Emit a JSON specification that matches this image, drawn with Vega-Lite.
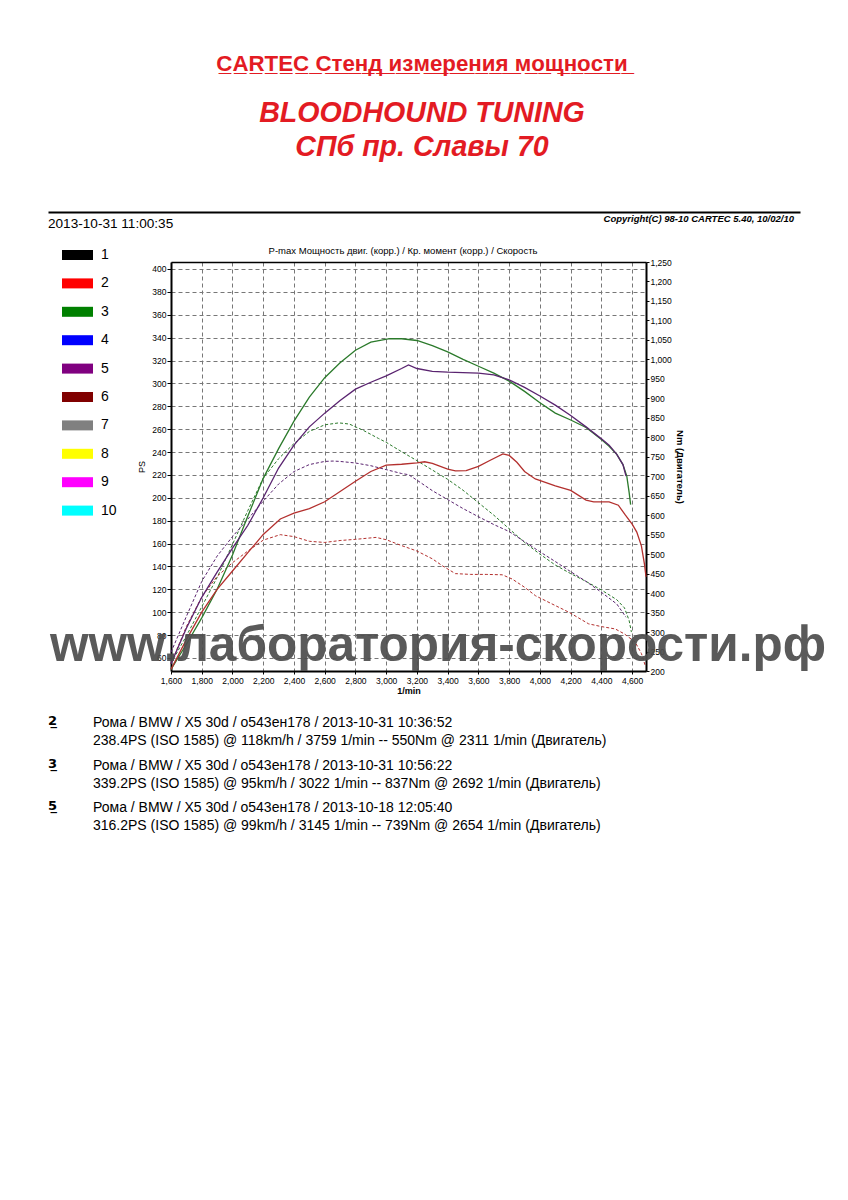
{
"$schema": "https://vega.github.io/schema/vega-lite/v6.json",
"background": "white",
"padding": {"left": 48, "top": 53, "right": 10, "bottom": 10},
"title": {
 "text": "C\u0332A\u0332R\u0332T\u0332E\u0332C\u0332 \u0332С\u0332т\u0332е\u0332н\u0332д\u0332 \u0332и\u0332з\u0332м\u0332е\u0332р\u0332е\u0332н\u0332и\u0332я\u0332 \u0332м\u0332о\u0332щ\u0332н\u0332о\u0332с\u0332т\u0332и\u0332",
 "subtitle": ["BLOODHOUND TUNING", "СПб пр. Славы 70"],
 "anchor": "middle", "frame": "bounds", "dx": -15,
 "font": "Liberation Sans", "fontSize": 22.3, "fontWeight": "bold", "color": "#e31b23",
 "subtitleFont": "Liberation Sans", "subtitleFontSize": 28.6, "subtitleFontWeight": "bold", "subtitleFontStyle": "italic", "subtitleColor": "#e31b23", "subtitleLineHeight": 34, "subtitlePadding": 24,
 "offset": 50
},
"datasets": {
 "power": [
  {"run":"3","rpm":1600,"ps":50},{"run":"3","rpm":1700,"ps":72},{"run":"3","rpm":1800,"ps":95},{"run":"3","rpm":1900,"ps":120},{"run":"3","rpm":2000,"ps":150},{"run":"3","rpm":2100,"ps":184},{"run":"3","rpm":2200,"ps":217},{"run":"3","rpm":2300,"ps":243},{"run":"3","rpm":2400,"ps":267},{"run":"3","rpm":2500,"ps":288},{"run":"3","rpm":2600,"ps":305},{"run":"3","rpm":2700,"ps":318},{"run":"3","rpm":2800,"ps":329},{"run":"3","rpm":2900,"ps":336},{"run":"3","rpm":3022,"ps":339.2},{"run":"3","rpm":3100,"ps":339},{"run":"3","rpm":3200,"ps":337.5},{"run":"3","rpm":3300,"ps":333},{"run":"3","rpm":3400,"ps":327.5},{"run":"3","rpm":3500,"ps":321},{"run":"3","rpm":3600,"ps":315},{"run":"3","rpm":3700,"ps":309},{"run":"3","rpm":3800,"ps":302},{"run":"3","rpm":3900,"ps":293},{"run":"3","rpm":4000,"ps":283},{"run":"3","rpm":4100,"ps":274},{"run":"3","rpm":4200,"ps":268},{"run":"3","rpm":4300,"ps":261.5},{"run":"3","rpm":4400,"ps":251},{"run":"3","rpm":4450,"ps":245},{"run":"3","rpm":4500,"ps":238},{"run":"3","rpm":4540,"ps":229},{"run":"3","rpm":4565,"ps":219},{"run":"3","rpm":4580,"ps":205},{"run":"3","rpm":4590,"ps":194},
  {"run":"5","rpm":1600,"ps":55},{"run":"5","rpm":1700,"ps":86},{"run":"5","rpm":1800,"ps":113},{"run":"5","rpm":1900,"ps":135},{"run":"5","rpm":2000,"ps":156},{"run":"5","rpm":2100,"ps":176},{"run":"5","rpm":2200,"ps":200},{"run":"5","rpm":2300,"ps":226},{"run":"5","rpm":2400,"ps":246},{"run":"5","rpm":2500,"ps":262},{"run":"5","rpm":2600,"ps":274},{"run":"5","rpm":2700,"ps":285},{"run":"5","rpm":2800,"ps":295},{"run":"5","rpm":2900,"ps":301},{"run":"5","rpm":3000,"ps":306.5},{"run":"5","rpm":3100,"ps":313},{"run":"5","rpm":3145,"ps":316.2},{"run":"5","rpm":3200,"ps":313},{"run":"5","rpm":3300,"ps":310.5},{"run":"5","rpm":3400,"ps":309.8},{"run":"5","rpm":3500,"ps":309.4},{"run":"5","rpm":3600,"ps":309},{"run":"5","rpm":3700,"ps":307.5},{"run":"5","rpm":3800,"ps":303},{"run":"5","rpm":3900,"ps":296.5},{"run":"5","rpm":4000,"ps":289},{"run":"5","rpm":4100,"ps":281},{"run":"5","rpm":4200,"ps":272},{"run":"5","rpm":4300,"ps":262},{"run":"5","rpm":4400,"ps":251.5},{"run":"5","rpm":4450,"ps":246},{"run":"5","rpm":4500,"ps":238},{"run":"5","rpm":4540,"ps":229},{"run":"5","rpm":4560,"ps":219},
  {"run":"2","rpm":1600,"ps":50},{"run":"2","rpm":1700,"ps":76},{"run":"2","rpm":1800,"ps":100},{"run":"2","rpm":1900,"ps":120},{"run":"2","rpm":2000,"ps":136},{"run":"2","rpm":2100,"ps":152},{"run":"2","rpm":2200,"ps":168},{"run":"2","rpm":2311,"ps":181.5},{"run":"2","rpm":2400,"ps":186.5},{"run":"2","rpm":2500,"ps":190.5},{"run":"2","rpm":2600,"ps":196.5},{"run":"2","rpm":2700,"ps":205.5},{"run":"2","rpm":2800,"ps":214.5},{"run":"2","rpm":2900,"ps":223},{"run":"2","rpm":3000,"ps":228.5},{"run":"2","rpm":3100,"ps":229.3},{"run":"2","rpm":3200,"ps":230.5},{"run":"2","rpm":3250,"ps":231.5},{"run":"2","rpm":3300,"ps":230},{"run":"2","rpm":3400,"ps":225},{"run":"2","rpm":3450,"ps":223.5},{"run":"2","rpm":3520,"ps":223.8},{"run":"2","rpm":3600,"ps":227.5},{"run":"2","rpm":3680,"ps":233},{"run":"2","rpm":3759,"ps":238.4},{"run":"2","rpm":3800,"ps":237},{"run":"2","rpm":3850,"ps":231},{"run":"2","rpm":3900,"ps":223},{"run":"2","rpm":3970,"ps":216.5},{"run":"2","rpm":4100,"ps":210.5},{"run":"2","rpm":4200,"ps":206.5},{"run":"2","rpm":4300,"ps":198},{"run":"2","rpm":4350,"ps":196.5},{"run":"2","rpm":4450,"ps":196.4},{"run":"2","rpm":4510,"ps":193.5},{"run":"2","rpm":4555,"ps":185},{"run":"2","rpm":4600,"ps":177},{"run":"2","rpm":4630,"ps":170},{"run":"2","rpm":4660,"ps":158},{"run":"2","rpm":4680,"ps":142},{"run":"2","rpm":4690,"ps":131}
 ],
 "torque": [
  {"run":"3","rpm":1600,"nm":220},{"run":"3","rpm":1700,"nm":290},{"run":"3","rpm":1800,"nm":365},{"run":"3","rpm":1900,"nm":440},{"run":"3","rpm":2000,"nm":525},{"run":"3","rpm":2100,"nm":612},{"run":"3","rpm":2200,"nm":695},{"run":"3","rpm":2300,"nm":745},{"run":"3","rpm":2400,"nm":784},{"run":"3","rpm":2500,"nm":815},{"run":"3","rpm":2600,"nm":832},{"run":"3","rpm":2692,"nm":837},{"run":"3","rpm":2760,"nm":834},{"run":"3","rpm":2850,"nm":818},{"run":"3","rpm":2950,"nm":797},{"run":"3","rpm":3000,"nm":787},{"run":"3","rpm":3100,"nm":763},{"run":"3","rpm":3200,"nm":740},{"run":"3","rpm":3300,"nm":716},{"run":"3","rpm":3400,"nm":692},{"run":"3","rpm":3500,"nm":664},{"run":"3","rpm":3600,"nm":632},{"run":"3","rpm":3700,"nm":600},{"run":"3","rpm":3800,"nm":565},{"run":"3","rpm":3900,"nm":530},{"run":"3","rpm":4000,"nm":500},{"run":"3","rpm":4100,"nm":472},{"run":"3","rpm":4200,"nm":450},{"run":"3","rpm":4300,"nm":430},{"run":"3","rpm":4400,"nm":408},{"run":"3","rpm":4500,"nm":383},{"run":"3","rpm":4550,"nm":362},{"run":"3","rpm":4580,"nm":330},{"run":"3","rpm":4595,"nm":300},
  {"run":"5","rpm":1600,"nm":248},{"run":"5","rpm":1700,"nm":340},{"run":"5","rpm":1800,"nm":430},{"run":"5","rpm":1900,"nm":495},{"run":"5","rpm":2000,"nm":545},{"run":"5","rpm":2100,"nm":590},{"run":"5","rpm":2200,"nm":636},{"run":"5","rpm":2300,"nm":680},{"run":"5","rpm":2400,"nm":712},{"run":"5","rpm":2500,"nm":730},{"run":"5","rpm":2600,"nm":738},{"run":"5","rpm":2654,"nm":739},{"run":"5","rpm":2700,"nm":738},{"run":"5","rpm":2800,"nm":734},{"run":"5","rpm":2900,"nm":727},{"run":"5","rpm":3000,"nm":717},{"run":"5","rpm":3100,"nm":707},{"run":"5","rpm":3145,"nm":704},{"run":"5","rpm":3200,"nm":690},{"run":"5","rpm":3300,"nm":663},{"run":"5","rpm":3400,"nm":640},{"run":"5","rpm":3500,"nm":617},{"run":"5","rpm":3600,"nm":596},{"run":"5","rpm":3700,"nm":576},{"run":"5","rpm":3800,"nm":558},{"run":"5","rpm":3900,"nm":532},{"run":"5","rpm":4000,"nm":506},{"run":"5","rpm":4100,"nm":481},{"run":"5","rpm":4200,"nm":455},{"run":"5","rpm":4300,"nm":430},{"run":"5","rpm":4400,"nm":402},{"run":"5","rpm":4500,"nm":372},{"run":"5","rpm":4560,"nm":338},
  {"run":"2","rpm":1600,"nm":219},{"run":"2","rpm":1700,"nm":314},{"run":"2","rpm":1800,"nm":390},{"run":"2","rpm":1900,"nm":443},{"run":"2","rpm":2000,"nm":478},{"run":"2","rpm":2100,"nm":508},{"run":"2","rpm":2200,"nm":536},{"run":"2","rpm":2311,"nm":550},{"run":"2","rpm":2400,"nm":545},{"run":"2","rpm":2500,"nm":533},{"run":"2","rpm":2600,"nm":530},{"run":"2","rpm":2700,"nm":535},{"run":"2","rpm":2800,"nm":538},{"run":"2","rpm":2934,"nm":543},{"run":"2","rpm":3000,"nm":537},{"run":"2","rpm":3100,"nm":522},{"run":"2","rpm":3200,"nm":508},{"run":"2","rpm":3300,"nm":488},{"run":"2","rpm":3366,"nm":470},{"run":"2","rpm":3450,"nm":450},{"run":"2","rpm":3550,"nm":448},{"run":"2","rpm":3650,"nm":448},{"run":"2","rpm":3755,"nm":447},{"run":"2","rpm":3820,"nm":436},{"run":"2","rpm":3900,"nm":415},{"run":"2","rpm":3972,"nm":393},{"run":"2","rpm":4100,"nm":368},{"run":"2","rpm":4188,"nm":351},{"run":"2","rpm":4317,"nm":321},{"run":"2","rpm":4400,"nm":314},{"run":"2","rpm":4490,"nm":308},{"run":"2","rpm":4550,"nm":295},{"run":"2","rpm":4620,"nm":274},{"run":"2","rpm":4660,"nm":245},{"run":"2","rpm":4685,"nm":214}
 ],
 "runs": [
  {"run":"2","num":"2\u0332","lines":["Рома / BMW / X5 30d / о543ен178 / 2013-10-31 10:36:52","238.4PS (ISO 1585) @ 118km/h / 3759 1/min -- 550Nm @ 2311 1/min (Двигатель)"]},
  {"run":"3","num":"3\u0332","lines":["Рома / BMW / X5 30d / о543ен178 / 2013-10-31 10:56:22","339.2PS (ISO 1585) @ 95km/h / 3022 1/min -- 837Nm @ 2692 1/min (Двигатель)"]},
  {"run":"5","num":"5\u0332","lines":["Рома / BMW / X5 30d / о543ен178 / 2013-10-18 12:05:40","316.2PS (ISO 1585) @ 99km/h / 3145 1/min -- 739Nm @ 2654 1/min (Двигатель)"]}
 ],
 "header": [{"date":"2013-10-31 11:00:35","copyright":"Copyright(C) 98-10 CARTEC 5.40, 10/02/10"}],
 "watermark": [{"label":"www.лаборатория-скорости.рф"}]
},
"vconcat": [
 {
  "width": 752, "height": 14,
  "data": {"name": "header"},
  "layer": [
   {"mark": {"type": "text", "align": "left", "baseline": "middle", "fontSize": 13.6, "font": "Liberation Sans", "dy": 5, "color": "black"},
    "encoding": {"x": {"datum": 0, "type": "quantitative", "scale": {"domain": [0, 1], "nice": false, "zero": false}, "axis": {"orient": "top", "domain": true, "domainColor": "black", "domainWidth": 2, "ticks": false, "labels": false, "grid": false, "title": null}}, "text": {"field": "date"}}},
   {"mark": {"type": "text", "align": "right", "baseline": "middle", "fontSize": 9.5, "fontStyle": "italic", "fontWeight": "bold", "font": "Liberation Sans", "color": "black", "dx": -6},
    "encoding": {"x": {"datum": 1, "type": "quantitative"}, "text": {"field": "copyright"}}}
  ]
 },
 {
  "width": 598, "height": 409,
  "title": {"text": "P-max Мощность двиг. (корр.) / Кр. момент (корр.) / Скорость", "font": "Liberation Sans", "fontSize": 9.5, "fontWeight": "normal", "color": "black", "anchor": "middle", "offset": 3, "dx": 56},
  "layer": [
   {
    "data": {"name": "torque"},
    "mark": {"type": "line", "strokeWidth": 1, "strokeDash": [3, 2]},
    "encoding": {
     "x": {"field": "rpm", "type": "quantitative", "scale": {"domain": [1600, 4690], "range": [123, 598], "nice": false, "zero": false},
      "axis": {"orient": "bottom", "values": [1600,1800,2000,2200,2400,2600,2800,3000,3200,3400,3600,3800,4000,4200,4400,4600], "format": ",.0f", "labelFont": "Liberation Sans", "labelFontSize": 8.5, "labelColor": "black", "labelPadding": 2, "labelFlush": false, "labelOverlap": false, "tickSize": 3, "tickColor": "black", "domainColor": "black", "domainWidth": 2, "grid": true, "gridColor": "#777777", "gridDash": [4, 3], "gridWidth": 1, "title": "1/min", "titleFont": "Liberation Sans", "titleFontSize": 9, "titleFontWeight": "bold", "titleColor": "black", "titlePadding": 2}},
     "y": {"field": "nm", "type": "quantitative", "scale": {"domain": [200, 1250], "nice": false, "zero": false},
      "axis": {"orient": "right", "values": [200,250,300,350,400,450,500,550,600,650,700,750,800,850,900,950,1000,1050,1100,1150,1200,1250], "format": ",.0f", "labelFont": "Liberation Sans", "labelFontSize": 8.5, "labelColor": "black", "labelPadding": 1, "labelFlush": false, "labelOverlap": false, "tickSize": 3, "tickColor": "black", "domainColor": "black", "domainWidth": 2, "grid": false, "title": "Nm (Двигатель)", "titleAngle": 90, "titleFont": "Liberation Sans", "titleFontSize": 9.5, "titleFontWeight": "bold", "titleColor": "black", "titlePadding": 3}},
     "stroke": {"field": "run", "type": "nominal", "scale": {"domain": ["2", "3", "5"], "range": ["#b3302e", "#2b7a2b", "#5a2470"]}, "legend": null}
    }
   },
   {
    "layer": [
     {
      "data": {"name": "power"},
      "mark": {"type": "line", "strokeWidth": 1.3},
      "encoding": {
       "x": {"field": "rpm", "type": "quantitative", "scale": {"domain": [1600, 4690], "range": [123, 598], "nice": false, "zero": false},
        "axis": {"orient": "top", "domain": true, "domainColor": "black", "domainWidth": 1.5, "ticks": false, "labels": false, "grid": false, "title": null}},
       "y": {"field": "ps", "type": "quantitative", "scale": {"domain": [48.6, 406.1], "nice": false, "zero": false},
        "axis": {"orient": "left", "offset": -123, "values": [60,80,100,120,140,160,180,200,220,240,260,280,300,320,340,360,380,400], "labelFont": "Liberation Sans", "labelFontSize": 8.5, "labelColor": "black", "labelPadding": 1, "labelFlush": false, "labelOverlap": false, "labelBound": false, "tickSize": 4, "tickColor": "black", "domainColor": "black", "domainWidth": 2, "grid": true, "gridColor": "#777777", "gridDash": [4, 3], "gridWidth": 1, "title": "PS", "titleFont": "Liberation Sans", "titleFontSize": 9, "titleFontWeight": "normal", "titleColor": "black", "titlePadding": 5}},
       "stroke": {"field": "run", "type": "nominal", "legend": null}
      }
     },
     {
      "data": {"name": "power"},
      "mark": {"type": "point", "filled": true, "opacity": 0},
      "encoding": {
       "color": {"field": "run", "type": "nominal",
        "scale": {"domain": ["1","2","3","4","5","6","7","8","9","10"], "range": ["#000000","#ff0000","#008000","#0000ff","#800080","#800000","#808080","#ffff00","#ff00ff","#00ffff"]},
        "legend": {"orient": "none", "legendX": 0, "legendY": 24, "direction": "vertical", "padding": 12, "title": null, "symbolType": "M-1,-1H5.2V1H-1Z", "symbolSize": 100, "symbolStrokeWidth": 0, "symbolOpacity": 1, "labelFont": "Liberation Sans", "labelFontSize": 14, "labelColor": "black", "labelOffset": 27, "rowPadding": 14.4}}
      }
     }
    ]
   },
   {
    "data": {"name": "watermark"},
    "mark": {"type": "text", "font": "Liberation Sans", "fontSize": 49.5, "fontWeight": "bold", "align": "center", "baseline": "alphabetic", "color": "#4d4d4d", "opacity": 0.92},
    "encoding": {
     "x": {"datum": 3337, "type": "quantitative", "axis": null},
     "y": {"datum": 57.35, "type": "quantitative", "scale": {"domain": [48.6, 406.1], "nice": false, "zero": false}, "axis": null},
     "text": {"field": "label", "type": "nominal"}
    }
   }
  ],
  "resolve": {"scale": {"y": "independent"}, "axis": {"x": "independent"}}
 },
 {
  "width": 560, "height": 101,
  "data": {"name": "runs"},
  "encoding": {"y": {"field": "run", "type": "ordinal", "scale": {"type": "point", "padding": 0.2}, "axis": null}},
  "layer": [
   {"mark": {"type": "text", "align": "left", "baseline": "top", "font": "DejaVu Sans", "fontSize": 13, "fontWeight": "bold", "color": "black", "dy": -3},
    "encoding": {"x": {"value": 0}, "text": {"field": "num"}}},
   {"mark": {"type": "text", "align": "left", "baseline": "top", "font": "Liberation Sans", "fontSize": 14, "lineHeight": 18, "color": "black", "dx": 45, "dy": -2},
    "encoding": {"x": {"value": 0}, "text": {"field": "lines"}}}
  ]
 }
],
"spacing": 14,
"config": {"view": {"stroke": null}}
}
